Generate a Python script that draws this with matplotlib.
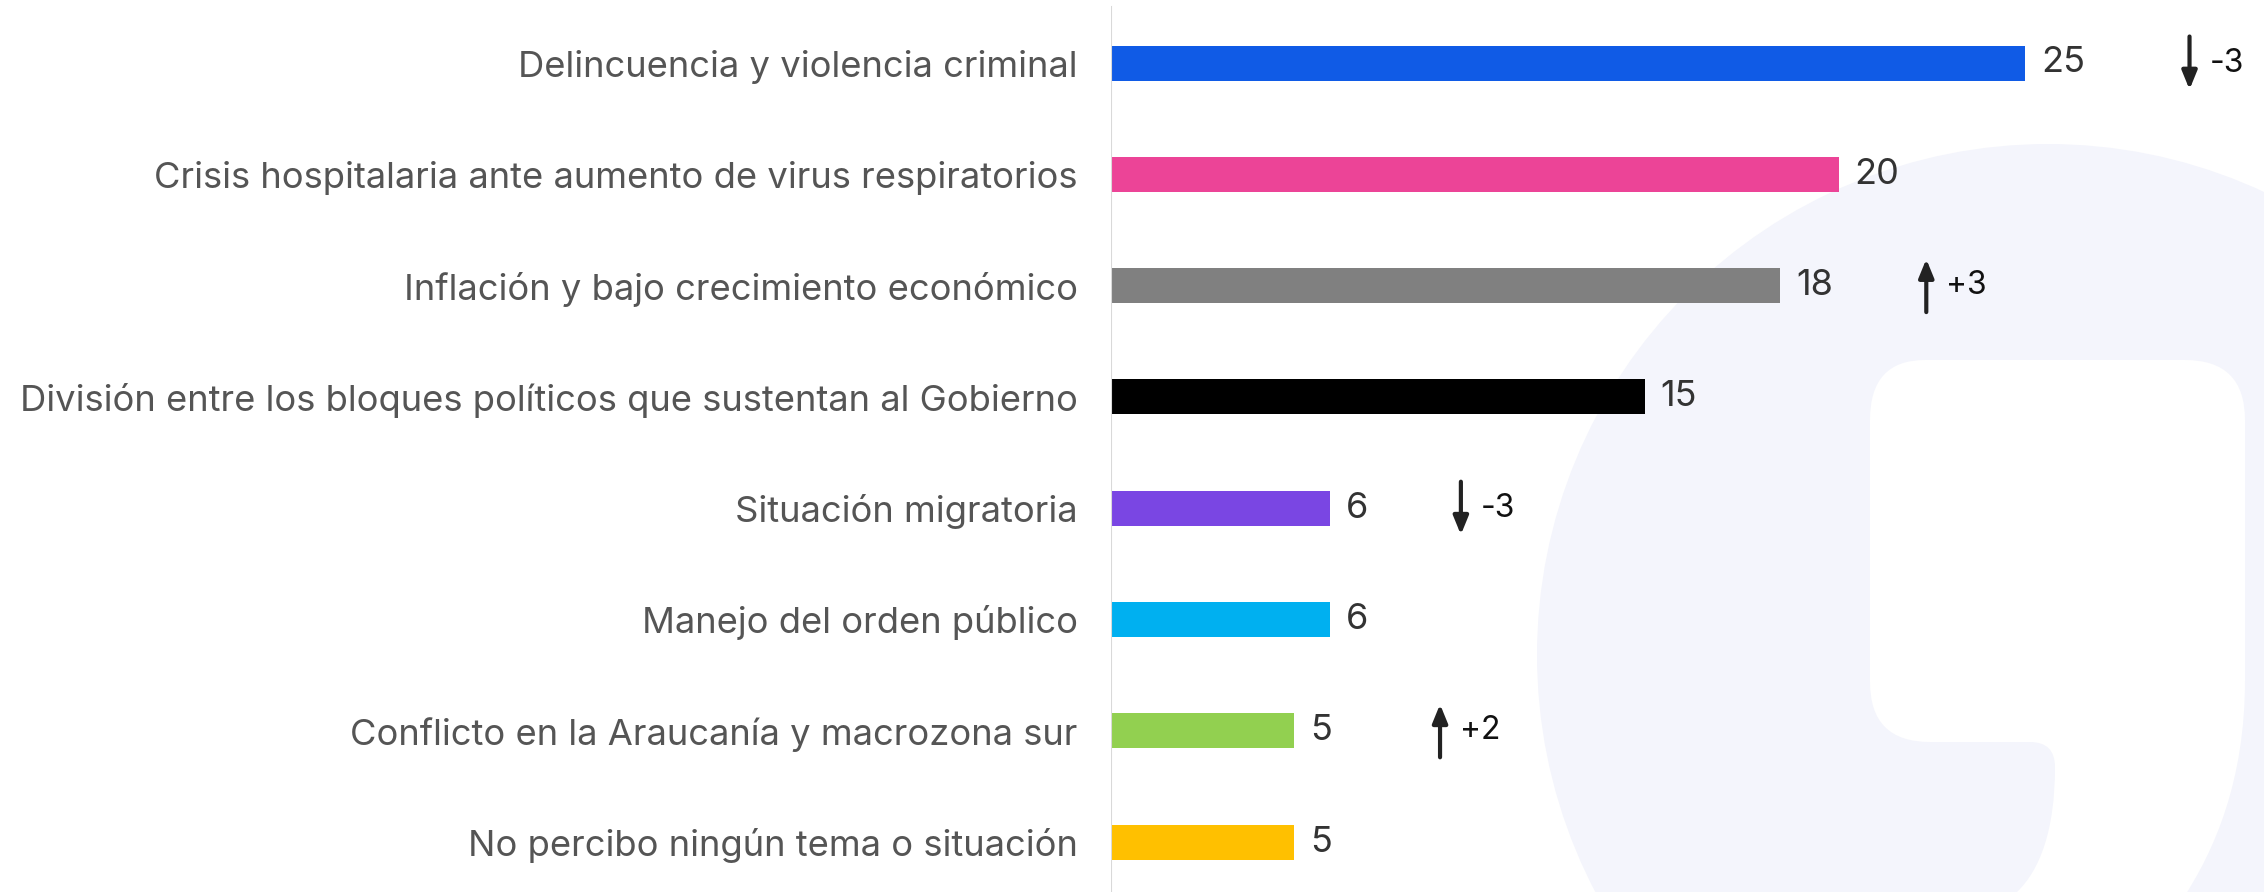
import matplotlib
matplotlib.use("Agg")
import matplotlib.pyplot as plt
from matplotlib.path import Path
from matplotlib.patches import PathPatch, Circle

plt.rcParams['font.family'] = ['Inter', 'DejaVu Sans']

# ---- data ----
categories = [
    "Delincuencia y violencia criminal",
    "Crisis hospitalaria ante aumento de virus respiratorios",
    "Inflación y bajo crecimiento económico",
    "División entre los bloques políticos que sustentan al Gobierno",
    "Situación migratoria",
    "Manejo del orden público",
    "Conflicto en la Araucanía y macrozona sur",
    "No percibo ningún tema o situación",
]
values = [25, 19.9, 18.3, 14.6, 6, 6, 5, 5]
changes = [-3, None, 3, None, -3, None, 2, None]

# ---- styles / layout ----
colors = ["#105BE6", "#EC4497", "#808080", "#000000",
          "#7A46E3", "#00B0F0", "#92D050", "#FFC000"]
arrow_x = [29.5, None, 22.3, None, 9.57, None, 9.0, None]

W, H = 2264, 892
fig = plt.figure(figsize=(W / 100, H / 100), dpi=100)

# background watermark (pixel coordinates)
bg = fig.add_axes([0, 0, 1, 1], zorder=0)
bg.set_xlim(0, W)
bg.set_ylim(H, 0)
bg.axis("off")
bg.add_patch(Circle((2048, 655), 511, facecolor="#f4f5fc", edgecolor="none"))
verts = [
    (1870, 420), (1870, 360), (1925, 360),
    (2185, 360), (2245, 360), (2245, 420),
    (2245, 680), (2245, 780), (2215, 850), (2182, 900),
    (2165, 960), (2000, 960),
    (2017, 892), (2040, 870), (2055, 830), (2055, 767),
    (2055, 742), (2030, 742),
    (1930, 742), (1870, 742), (1870, 682),
    (1870, 420),
]
codes = [
    Path.MOVETO, Path.CURVE3, Path.CURVE3,
    Path.LINETO, Path.CURVE3, Path.CURVE3,
    Path.LINETO, Path.CURVE4, Path.CURVE4, Path.CURVE4,
    Path.LINETO, Path.LINETO,
    Path.LINETO, Path.CURVE4, Path.CURVE4, Path.CURVE4,
    Path.CURVE3, Path.CURVE3,
    Path.LINETO, Path.CURVE3, Path.CURVE3,
    Path.CLOSEPOLY,
]
bg.add_patch(PathPatch(Path(verts, codes), facecolor="white", edgecolor="none"))

# main axes
left_px = 1111
ax = fig.add_axes([left_px / W, 0, 1 - left_px / W, 1], zorder=1)
ax.patch.set_alpha(0)
px_per_unit = 36.56
ax.set_xlim(0, (W - left_px) / px_per_unit)
top_i = -63 / 111.3
bot_i = (H - 63) / 111.3
ax.set_ylim(bot_i, top_i)

ypos = list(range(len(categories)))
ax.barh(ypos, values, height=35 / 111.3, color=colors, zorder=2)

for s in ax.spines.values():
    s.set_visible(False)
ax.set_xticks([])
ax.set_yticks(ypos)
ax.set_yticklabels(categories, fontsize=26.2, color="#555555")
ax.tick_params(axis="y", length=0, pad=24)
ax.axvline(0, ymin=0, ymax=1 - 7 / H, color="#d9d9d9", lw=1.5, zorder=3)

unit_per_px = 1 / px_per_unit
for i, v in enumerate(values):
    ax.text(v + 16 * unit_per_px, i, f"{v:.0f}", va="center", ha="left",
            fontsize=26, color="#333333")

half = 26.5 / 111.3
for i, (c, x) in enumerate(zip(changes, arrow_x)):
    if c is None:
        continue
    if c < 0:
        start, end = i - half, i + half
    else:
        start, end = i + half, i - half
    ax.annotate("", xy=(x, end), xytext=(x, start),
                arrowprops=dict(arrowstyle="-|>,head_length=11,head_width=4.5",
                                mutation_scale=1, lw=3, color="#222222",
                                shrinkA=0, shrinkB=0))
    ax.text(x + 20 * unit_per_px, i, f"{c:+d}", va="center", ha="left",
            fontsize=23, color="#111111")

fig.savefig("out.png", dpi=100)
